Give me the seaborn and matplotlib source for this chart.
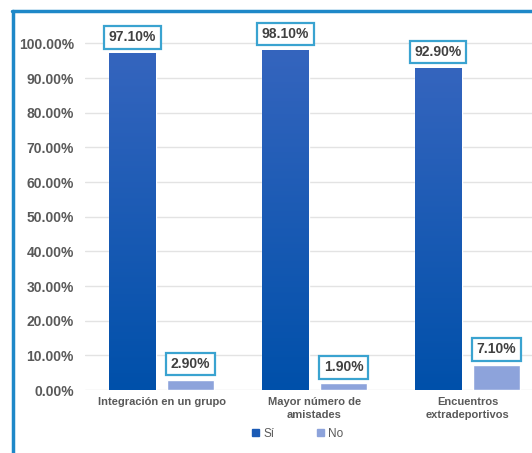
import numpy as np
import pandas as pd
import matplotlib
matplotlib.use("Agg")
import matplotlib.pyplot as plt
from matplotlib.colors import LinearSegmentedColormap
from matplotlib.patches import Rectangle
import seaborn as sns

categories = ["Integración en un grupo", "Mayor número de\namistades", "Encuentros\nextradeportivos"]
si_values = [97.10, 98.10, 92.90]
no_values = [2.90, 1.90, 7.10]
series = ["Sí", "No"]
yticks = [0, 10, 20, 30, 40, 50, 60, 70, 80, 90, 100]

df = pd.DataFrame({
    "cat": categories * 2,
    "serie": [series[0]] * 3 + [series[1]] * 3,
    "val": si_values + no_values,
})

sns.set_theme(style="white")
plt.rcParams["font.family"] = ["Liberation Sans", "DejaVu Sans"]

fig = plt.figure(figsize=(5.32, 4.53), dpi=100)
ax = fig.add_axes([85 / 532, 63 / 453, 459 / 532, 364 / 453])

palette = {"Sí": "#1A5AB5", "No": "#8DA3DB"}
sns.barplot(data=df, x="cat", y="val", hue="serie", palette=palette,
            width=0.76, gap=0.2, ax=ax, legend=False, saturation=1)

# gradient on Sí bars
cmap = LinearSegmentedColormap.from_list("g", ["#0050AA", "#3565BE"])
grad = np.linspace(0, 1, 256).reshape(-1, 1)
for p in ax.containers[0].patches:
    x0, y0 = p.get_x(), p.get_y()
    w, h = p.get_width(), p.get_height()
    im = ax.imshow(grad, cmap=cmap, origin="lower", aspect="auto",
                   extent=[x0, x0 + w, y0, y0 + h], zorder=p.get_zorder() + 0.1)
    im.set_clip_path(p)

ax.set_xlim(-0.5, 2.5)
ax.set_ylim(0, 105)
ax.set_yticks(yticks)
ax.set_yticklabels([f"{v:.2f}%" for v in yticks], fontsize=10, fontweight="bold", color="#595959")
ax.tick_params(axis="y", length=0, pad=8)
ax.tick_params(axis="x", length=0, pad=5)
for lab in ax.get_xticklabels():
    lab.set_fontsize(8)
    lab.set_fontweight("bold")
    lab.set_color("#595959")
    lab.set_linespacing(1.35)
ax.set_xlabel("")
ax.set_ylabel("")
ax.yaxis.grid(True, color="#E3E3E3", linewidth=1)
ax.set_axisbelow(True)
for s in ax.spines.values():
    s.set_visible(False)

for cont in ax.containers:
    for p in cont.patches:
        v = p.get_height()
        ax.annotate(f"{v:.2f}%", (p.get_x() + p.get_width() / 2, v),
                    xytext=(0, 11.5), textcoords="offset points",
                    ha="center", va="center", fontsize=10, fontweight="bold",
                    color="#404040", zorder=10, annotation_clip=False,
                    bbox=dict(boxstyle="square,pad=0.32", fc="white",
                              ec="#3AA3D0", lw=1.6))

# legend
handles = [Rectangle((0, 0), 1, 1, color=palette[s]) for s in series]
fig.legend(handles, series, loc="center", bbox_to_anchor=(298 / 532, 1 - 434 / 453),
           ncol=2, frameon=False, fontsize=8.5, handlelength=0.55, handleheight=0.55,
           columnspacing=3.6, handletextpad=0.4, labelcolor="#595959")

# frame border
fig.add_artist(plt.Line2D([12.5 / 532, 12.5 / 532], [0, 1 - 10.5 / 453],
                          color="#1E88C8", lw=2.5, transform=fig.transFigure))
fig.add_artist(plt.Line2D([11.5 / 532, 1], [1 - 10.5 / 453, 1 - 10.5 / 453],
                          color="#1E88C8", lw=2.5, transform=fig.transFigure))

fig.savefig("out.png", dpi=100)
